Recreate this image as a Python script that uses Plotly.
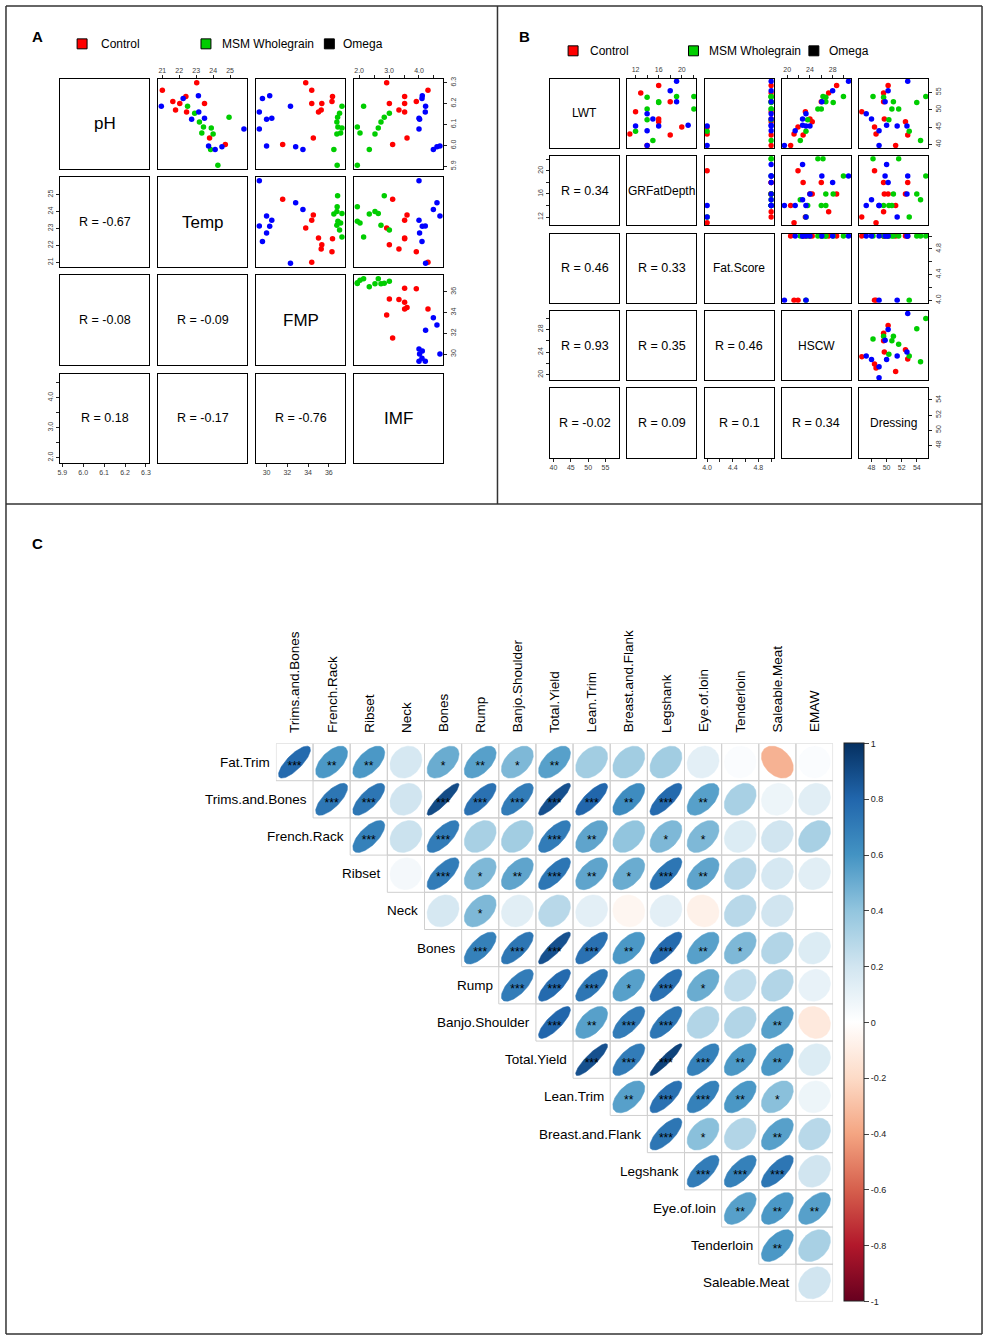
import numpy as np
import plotly.graph_objects as go

W, H = 987, 1339
FONT = "Liberation Sans, Arial, sans-serif"


def fx(x):
    return x / W


def fy(y):
    return 1 - y / H


group_names = ["Control", "MSM Wholegrain", "Omega"]
group_colors = ["#FF0000", "#00CD00", "#0000FF"]

# ---------------- Panel A data (10 animals per group: Control, MSM Wholegrain, Omega)
a_group = [0] * 10 + [1] * 10 + [2] * 10
a_ph = [6.264, 6.30, 6.21, 6.20, 6.234, 6.17, 6.16, 6.20, 6.036, 6.004,
        6.187, 6.154, 6.112, 6.088, 6.06, 6.083, 6.055, 5.98, 5.905, 6.135,
        6.187, 6.224, 6.238, 6.16, 6.125, 6.13, 5.997, 5.98, 5.994, 6.078]
a_temp = [21.0, 23.03, 21.62, 22.03, 22.39, 21.78, 22.43, 23.49, 23.79, 24.72,
          22.49, 22.91, 23.19, 23.43, 23.33, 23.89, 24.0, 23.85, 24.28, 24.94,
          20.94, 22.23, 23.13, 23.15, 22.73, 23.49, 23.73, 24.12, 24.52, 25.82]
a_fmp = [34.35, 33.77, 36.3, 35.32, 36.35, 35.26, 35.0, 34.35, 34.5, 31.55,
         37.26, 37.03, 36.77, 36.87, 37.13, 37.26, 36.77, 36.48, 36.8, 36.84,
         32.3, 29.6, 30.3, 29.3, 30.0, 30.5, 30.0, 33.5, 32.8, 29.3]
a_imf = [4.30, 2.92, 3.91, 3.01, 3.52, 3.33, 3.52, 3.52, 3.6, 3.12,
         2.15, 3.01, 2.73, 1.94, 2.03, 2.64, 2.53, 2.34, 1.94, 2.84,
         4.22, 4.10, 4.11, 4.21, 4.02, 4.0, 4.7, 4.48, 4.6, 4.0]
a_names = ["pH", "Temp", "FMP", "IMF"]
a_r_values = [-0.67, -0.08, -0.09, 0.18, -0.17, -0.76]  # lower triangle, row-major
a_tickvals = [[5.9, 6.0, 6.1, 6.2, 6.3], [21, 22, 23, 24, 25], [30, 32, 34, 36],
              [2.0, 2.5, 3.0, 3.5, 4.0, 4.5]]
a_ticktext = [["5.9", "6.0", "6.1", "6.2", "6.3"], ["21", "22", "23", "24", "25"],
              ["30", "32", "34", "36"], ["2.0", "", "3.0", "", "4.0", ""]]

# ---------------- Panel B data
b_group = [0] * 10 + [1] * 10 + [2] * 10
b_lwt = [57.0, 54.8, 52.3, 49.4, 47.3, 46.5, 45.0, 43.0, 42.7, 39.7,
         53.8, 53.8, 53.6, 52.1, 50.2, 50.2, 47.1, 43.8, 41.1, 52.3,
         58.2, 55.5, 52.3, 48.8, 47.3, 45.5, 45.3, 45.3, 43.9, 39.7]
b_gr = [16.0, 12.9, 18.0, 12.0, 16.0, 16.0, 20.0, 11.0, 18.0, 14.0,
        19.1, 22.1, 14.0, 16.0, 22.1, 14.0, 14.0, 12.0, 15.0, 16.0,
        19.1, 18.0, 19.1, 14.0, 15.0, 21.1, 12.0, 16.0, 14.0, 14.0]
b_fat = [5, 5, 5, 5, 5, 5, 4, 4, 5, 5,
         5, 5, 5, 5, 5, 5, 5, 4, 5, 5,
         5, 5, 5, 5, 5, 5, 4, 5, 5, 4]
b_hscw = [28.7, 27.3, 26.0, 23.2, 24.0, 24.4, 21.9, 21.2, 22.8, 20.6,
          29.9, 26.3, 26.8, 28.1, 25.4, 26.0, 23.6, 23.3, 22.3, 26.8,
          30.8, 28.0, 26.1, 23.3, 22.7, 22.7, 23.3, 24.0, 21.4, 19.5]
b_dress = [50.2, 49.6, 49.6, 46.7, 49.7, 52.5, 48.4, 48.6, 52.8, 51.2,
           55.2, 48.2, 49.6, 54.0, 51.6, 50.7, 50.3, 53.0, 54.5, 50.9,
           52.8, 50.2, 49.8, 47.3, 48.0, 50.0, 51.4, 52.7, 49.0, 49.0]
b_names = ["LWT", "GRFatDepth", "Fat.Score", "HSCW", "Dressing"]
b_r_values = [0.34, 0.46, 0.33, 0.93, 0.35, 0.46, -0.02, 0.09, 0.1, 0.34]
b_tickvals = [[40, 45, 50, 55], [12, 14, 16, 18, 20, 22], [4.0, 4.2, 4.4, 4.6, 4.8, 5.0],
              [20, 22, 24, 26, 28, 30], [48, 50, 52, 54]]
b_ticktext = [["40", "45", "50", "55"], ["12", "", "16", "", "20", ""],
              ["4.0", "", "4.4", "", "4.8", ""], ["20", "", "24", "", "28", ""],
              ["48", "50", "52", "54"]]

# ---------------- Panel C data (upper triangle of correlation matrix)
c_row_names = ["Fat.Trim", "Trims.and.Bones", "French.Rack", "Ribset", "Neck", "Bones", "Rump",
               "Banjo.Shoulder", "Total.Yield", "Lean.Trim", "Breast.and.Flank", "Legshank",
               "Eye.of.loin", "Tenderloin", "Saleable.Meat"]
c_col_names = ["Trims.and.Bones", "French.Rack", "Ribset", "Neck", "Bones", "Rump",
               "Banjo.Shoulder", "Total.Yield", "Lean.Trim", "Breast.and.Flank", "Legshank",
               "Eye.of.loin", "Tenderloin", "Saleable.Meat", "EMAW"]
c_corr = [
    [0.78, 0.58, 0.58, 0.18, 0.50, 0.55, 0.45, 0.55, 0.35, 0.35, 0.35, 0.12, 0.02, -0.35, 0.02],
    [0.73, 0.73, 0.20, 0.90, 0.75, 0.70, 0.88, 0.80, 0.63, 0.78, 0.55, 0.33, 0.08, 0.13],
    [0.68, 0.22, 0.70, 0.33, 0.35, 0.70, 0.53, 0.40, 0.45, 0.45, 0.15, 0.20, 0.33],
    [0.05, 0.70, 0.45, 0.53, 0.73, 0.53, 0.50, 0.73, 0.53, 0.28, 0.18, 0.13],
    [0.18, 0.45, 0.13, 0.28, 0.12, -0.05, 0.12, -0.08, 0.28, 0.20, 0.00],
    [0.68, 0.73, 0.88, 0.75, 0.58, 0.78, 0.55, 0.45, 0.30, 0.15],
    [0.70, 0.78, 0.73, 0.55, 0.75, 0.50, 0.25, 0.30, 0.10],
    [0.80, 0.55, 0.70, 0.73, 0.30, 0.30, 0.55, -0.12],
    [0.88, 0.70, 0.93, 0.68, 0.58, 0.58, 0.15],
    [0.55, 0.75, 0.68, 0.58, 0.42, 0.08],
    [0.73, 0.42, 0.30, 0.55, 0.28],
    [0.70, 0.68, 0.73, 0.20],
    [0.55, 0.58, 0.55],
    [0.58, 0.33],
    [0.20],
]
c_sig = [
    ["***", "**", "**", "", "*", "**", "*", "**", "", "", "", "", "", "", ""],
    ["***", "***", "", "***", "***", "***", "***", "***", "**", "***", "**", "", "", ""],
    ["***", "", "***", "", "", "***", "**", "", "*", "*", "", "", ""],
    ["", "***", "*", "**", "***", "**", "*", "***", "**", "", "", ""],
    ["", "*", "", "", "", "", "", "", "", "", ""],
    ["***", "***", "***", "***", "**", "***", "**", "*", "", ""],
    ["***", "***", "***", "*", "***", "*", "", "", ""],
    ["***", "**", "***", "***", "", "", "**", ""],
    ["***", "***", "***", "***", "**", "**", ""],
    ["**", "***", "***", "**", "*", ""],
    ["***", "*", "", "**", ""],
    ["***", "***", "***", ""],
    ["**", "**", "**"],
    ["**", ""],
    [""],
]
c_colorbar_ticks = [1, 0.8, 0.6, 0.4, 0.2, 0, -0.2, -0.4, -0.6, -0.8, -1]

rdbu_hex = ["#67001F", "#B2182B", "#D6604D", "#F4A582", "#FDDBC7", "#FFFFFF",
            "#D1E5F0", "#92C5DE", "#4393C3", "#2166AC", "#053061"]
rdbu_scale = [[i / 10, c] for i, c in enumerate(rdbu_hex)]


def rdbu(v):
    t = (v + 1) / 2 * 10
    i = int(min(max(np.floor(t), 0), 9))
    f = t - i
    c1 = [int(rdbu_hex[i][k:k + 2], 16) for k in (1, 3, 5)]
    c2 = [int(rdbu_hex[i + 1][k:k + 2], 16) for k in (1, 3, 5)]
    c = [round(a + (b - a) * f) for a, b in zip(c1, c2)]
    return "rgb(%d,%d,%d)" % tuple(c)


def pad_range(vals):
    lo, hi = min(vals), max(vals)
    d = (hi - lo) * 0.04
    return [lo - d, hi + d]


fig = go.Figure()
layout_axes = {}
annotations = []
shapes = []
counter = [0]

TICKFONT = dict(family=FONT, size=7, color="#404040")


def add_pairs(data, groups, names, tickv, tickt, r_vals, x0, xstep, w, y0, ystep, h,
              diag_size, r_size, msize):
    n = len(names)
    ranges = [pad_range(d) for d in data]
    r_map = {}
    ri = 0
    for i in range(n):
        for j in range(i):
            r_map[(i, j)] = r_vals[ri]
            ri += 1
    for i in range(n):
        for j in range(n):
            counter[0] += 1
            k = counter[0]
            xid = "x" if k == 1 else f"x{k}"
            yid = "y" if k == 1 else f"y{k}"
            left = x0 + xstep * j
            top = y0 + ystep * i
            xa = dict(domain=[fx(left), fx(left + w)], range=ranges[j], anchor=yid,
                      showgrid=False, zeroline=False, showline=True, mirror=True,
                      linecolor="black", linewidth=1, fixedrange=True,
                      tickfont=TICKFONT, ticklen=3, tickwidth=1, tickcolor="#222")
            ya = dict(domain=[fy(top + h), fy(top)], range=ranges[i], anchor=xid,
                      showgrid=False, zeroline=False, showline=True, mirror=True,
                      linecolor="black", linewidth=1, fixedrange=True,
                      tickfont=TICKFONT, ticklen=3, tickwidth=1, tickcolor="#222",
                      tickangle=-90)
            if i == 0 and j % 2 == 1:
                xa.update(side="top", ticks="outside", tickvals=tickv[j], ticktext=tickt[j],
                          showticklabels=True)
            elif i == n - 1 and j % 2 == 0:
                xa.update(side="bottom", ticks="outside", tickvals=tickv[j], ticktext=tickt[j],
                          showticklabels=True)
            else:
                xa.update(ticks="", showticklabels=False)
            if j == n - 1 and i % 2 == 0:
                ya.update(side="right", ticks="outside", tickvals=tickv[i], ticktext=tickt[i],
                          showticklabels=True)
            elif j == 0 and i % 2 == 1:
                ya.update(side="left", ticks="outside", tickvals=tickv[i], ticktext=tickt[i],
                          showticklabels=True)
            else:
                ya.update(ticks="", showticklabels=False)
            layout_axes["xaxis" if k == 1 else f"xaxis{k}"] = xa
            layout_axes["yaxis" if k == 1 else f"yaxis{k}"] = ya
            if j > i:
                for g in range(len(group_names)):
                    xs = [data[j][p] for p in range(len(groups)) if groups[p] == g]
                    ys = [data[i][p] for p in range(len(groups)) if groups[p] == g]
                    fig.add_trace(go.Scatter(x=xs, y=ys, mode="markers", xaxis=xid, yaxis=yid,
                                             marker=dict(color=group_colors[g], size=msize),
                                             hoverinfo="skip", showlegend=False))
            else:
                # invisible placeholder so that the (empty) panel box is drawn
                fig.add_trace(go.Scatter(x=[ranges[j][0]], y=[ranges[i][0]], mode="markers",
                                         xaxis=xid, yaxis=yid, marker=dict(size=1, opacity=0),
                                         hoverinfo="skip", showlegend=False))
                if i == j:
                    txt, size = names[i], diag_size
                else:
                    txt, size = f"R = {r_map[(i, j)]:g}", r_size
                annotations.append(dict(text=txt, xref=f"{xid} domain", yref=f"{yid} domain",
                                        x=0.5, y=0.5, showarrow=False,
                                        font=dict(family=FONT, size=size, color="black")))


add_pairs([a_ph, a_temp, a_fmp, a_imf], a_group, a_names, a_tickvals, a_ticktext, a_r_values,
          57.3, 98.5, 89.7, 76.7, 98.4, 89.5, 17, 12.5, 5.5)
add_pairs([b_lwt, b_gr, b_fat, b_hscw, b_dress], b_group, b_names, b_tickvals, b_ticktext,
          b_r_values, 549.7, 77.7, 69.6, 76.0, 77.7, 69.5, 12, 12.5, 5.5)

# ---------------- Panel C
counter[0] += 1
kc = counter[0]
cx, cy = f"x{kc}", f"y{kc}"
layout_axes[f"xaxis{kc}"] = dict(domain=[fx(274.3), fx(834.3)], range=[-0.5, 14.5], anchor=cy,
                                 visible=False, fixedrange=True)
layout_axes[f"yaxis{kc}"] = dict(domain=[fy(1303.3), fy(743.3)], range=[14.5, -0.5], anchor=cx,
                                 visible=False, fixedrange=True)

# cell borders
gx, gy = [], []
for r, row in enumerate(c_corr):
    for m in range(len(row)):
        c = r + m
        gx += [c - 0.5, c + 0.5, c + 0.5, c - 0.5, c - 0.5, None]
        gy += [r - 0.5, r - 0.5, r + 0.5, r + 0.5, r - 0.5, None]
fig.add_trace(go.Scatter(x=gx, y=gy, mode="lines", xaxis=cx, yaxis=cy,
                         line=dict(color="#CFCFCF", width=1), hoverinfo="skip", showlegend=False))

S = 0.86
kk = np.linspace(0, 2 * np.pi, 80)
for r, row in enumerate(c_corr):
    for m, rho in enumerate(row):
        c = r + m
        a = np.arccos(rho) / 2
        ex = c + S * np.cos(kk + a) / 2
        ey = r - S * np.cos(kk - a) / 2
        col = rdbu(rho)
        fig.add_trace(go.Scatter(x=ex, y=ey, mode="lines", fill="toself", fillcolor=col,
                                 line=dict(color=col, width=0.5), xaxis=cx, yaxis=cy,
                                 hoverinfo="skip", showlegend=False))

sx, sy, st, vals = [], [], [], []
for r, row in enumerate(c_sig):
    for m, s in enumerate(row):
        sx.append(r + m)
        sy.append(r + 0.12)
        st.append(s)
        vals.append(c_corr[r][m])
fig.add_trace(go.Scatter(x=sx, y=sy, text=st, mode="text", xaxis=cx, yaxis=cy,
                         textfont=dict(family=FONT, size=12, color="black"),
                         hoverinfo="skip", showlegend=False))
fig.add_trace(go.Scatter(
    x=sx, y=sy, mode="markers", xaxis=cx, yaxis=cy, hoverinfo="skip", showlegend=False,
    marker=dict(size=1, opacity=0, color=vals, cmin=-1, cmax=1, colorscale=rdbu_scale,
                showscale=True,
                colorbar=dict(x=fx(845.5), xanchor="left", y=fy(1023.3), yanchor="middle",
                              len=560 / H, lenmode="fraction", thickness=20,
                              thicknessmode="pixels", xpad=0, ypad=0,
                              outlinecolor="#222", outlinewidth=1,
                              ticks="outside", ticklen=5, tickcolor="#444",
                              tickvals=c_colorbar_ticks,
                              ticktext=[f"{v:g}" for v in c_colorbar_ticks],
                              tickfont=dict(family=FONT, size=9, color="#222")))))

for m, name in enumerate(c_col_names):
    annotations.append(dict(text=name, xref=cx, yref=cy, x=m, y=-0.5, yanchor="bottom",
                            yshift=9, textangle=-90, showarrow=False,
                            font=dict(family=FONT, size=13.5, color="black")))
for r, name in enumerate(c_row_names):
    annotations.append(dict(text=name, xref=cx, yref=cy, x=r - 0.5, y=r, xanchor="right",
                            xshift=-4, showarrow=False,
                            font=dict(family=FONT, size=13.5, color="black")))

# ---------------- Panel labels, legends and frames
for lab, x, y in [("A", 27, 23), ("B", 524, 23), ("C", 27, 543)]:
    annotations.append(dict(text=f"<b>{lab}</b>", xref="paper", yref="paper", x=fx(x), y=fy(y),
                            showarrow=False, font=dict(family=FONT, size=15, color="black")))

legend_pos = [
    [(74.5, 36, 96), (199, 36, 218), (323, 36, 340)],
    [(568, 43, 588), (689, 43, 708), (810, 43, 828)],
]
legend_fill = ["#FF0000", "#00CD00", "#000000"]
for pos in legend_pos:
    for (sxp, syp, tx), fc, name in zip(pos, legend_fill, group_names):
        shapes.append(dict(type="rect", xref="paper", yref="paper", x0=fx(sxp), x1=fx(sxp + 10),
                           y0=fy(syp + 10), y1=fy(syp), fillcolor=fc,
                           line=dict(color="black", width=1)))
        annotations.append(dict(text=name, xref="paper", yref="paper", x=fx(tx), y=fy(syp + 5),
                                xanchor="left", yanchor="middle", showarrow=False,
                                font=dict(family=FONT, size=12, color="black")))

frame = dict(color="#333333", width=1.5)
for x0, y0, x1, y1 in [(3, 3, 984, 3), (3, 3, 3, 1336), (984, 3, 984, 1336), (3, 1336, 984, 1336),
                       (497, 3, 497, 503), (3, 503, 984, 503)]:
    shapes.append(dict(type="line", xref="paper", yref="paper", x0=fx(x0), y0=fy(y0),
                       x1=fx(x1), y1=fy(y1), line=frame))

fig.update_layout(width=W, height=H, margin=dict(l=0, r=0, t=0, b=0), autosize=False,
                  paper_bgcolor="white", plot_bgcolor="white", showlegend=False,
                  annotations=annotations, shapes=shapes, **layout_axes)

fig.write_html("out.html", config={"displayModeBar": False},
               post_script="document.body.style.margin='0';document.body.style.padding='0';")
